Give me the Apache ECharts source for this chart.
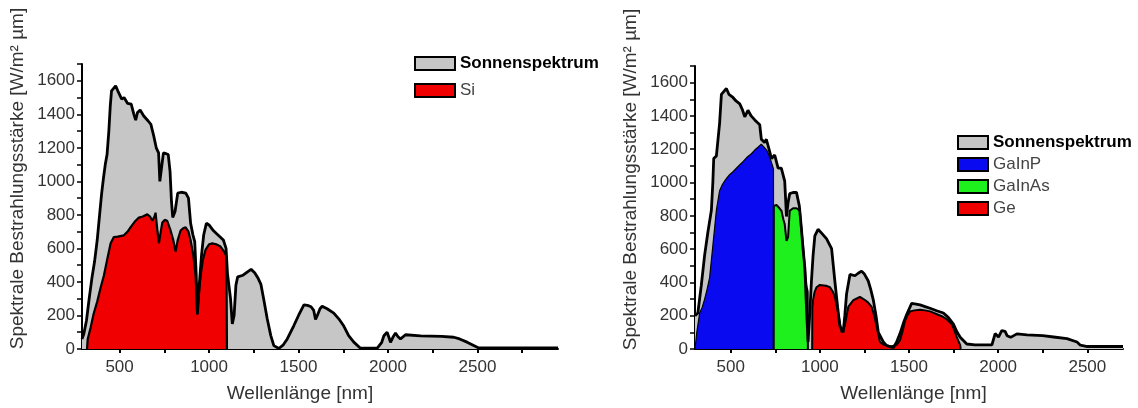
<!DOCTYPE html>
<html>
<head>
<meta charset="utf-8">
<script src="https://cdn.jsdelivr.net/npm/echarts@6/dist/echarts.min.js"></script>
<style>
html,body{margin:0;padding:0;background:#fff;}
#c{width:1138px;height:408px;}
</style>
</head>
<body>
<div id="c"></div>
<script>
// ---- Data (wavelength nm, spectral irradiance W/m² µm) ----
const xLabelValues = [500, 1000, 1500, 2000, 2500];
const xTickValues = [500, 750, 1000, 1250, 1500, 1750, 2000, 2250, 2500, 2750];

const sunLeft = [[290,60],[300,90],[315,170],[330,300],[345,420],[360,520],[375,650],[390,820],[400,930],[410,1020],[420,1100],[430,1160],[440,1300],[448,1450],[455,1540],[465,1545],[478,1570],[490,1540],[500,1535],[512,1490],[525,1500],[545,1465],[565,1460],[580,1400],[590,1365],[600,1410],[615,1425],[635,1390],[660,1360],[675,1340],[690,1275],[705,1200],[718,1170],[725,1000],[732,1060],[745,1170],[760,1165],[772,1160],[782,1060],[790,880],[797,785],[810,820],[825,930],[845,935],[870,930],[885,900],[897,750],[910,680],[920,640],[928,450],[935,210],[945,380],[958,560],[970,680],[985,750],[1000,740],[1025,705],[1050,680],[1080,650],[1095,600],[1103,450],[1112,440],[1120,300],[1130,150],[1140,200],[1150,380],[1160,430],[1190,440],[1215,460],[1235,475],[1255,455],[1275,420],[1290,385],[1305,300],[1325,180],[1345,80],[1362,20],[1390,3],[1415,25],[1437,60],[1474,140],[1500,200],[1530,263],[1550,260],[1570,252],[1585,230],[1595,176],[1605,200],[1620,240],[1632,255],[1660,240],[1697,214],[1725,180],[1753,137],[1780,80],[1809,41],[1846,5],[1940,5],[1965,40],[1977,79],[1995,100],[2005,70],[2014,40],[2030,75],[2042,95],[2055,75],[2070,60],[2098,85],[2182,78],[2300,75],[2368,70],[2400,60],[2442,41],[2507,6],[2950,6]];

const siCell = [[318,0],[322,60],[338,127],[355,210],[375,283],[395,370],[412,437],[430,530],[450,631],[468,668],[490,670],[524,678],[545,700],[561,726],[585,760],[608,784],[630,790],[655,804],[670,790],[683,765],[695,790],[701,813],[710,720],[720,631],[730,700],[739,755],[752,770],[766,765],[785,707],[800,650],[813,581],[825,650],[841,707],[855,720],[869,726],[885,700],[897,649],[912,560],[925,437],[934,205],[943,330],[953,437],[965,530],[980,591],[1000,625],[1018,630],[1040,625],[1064,611],[1085,580],[1097,553],[1100,0]];

const sunRight = [[300,200],[316,216],[335,380],[354,564],[372,700],[392,835],[400,1000],[405,1144],[420,1160],[430,1170],[438,1357],[448,1530],[460,1545],[476,1565],[490,1530],[513,1511],[530,1490],[551,1472],[565,1440],[579,1395],[597,1434],[615,1400],[635,1376],[650,1360],[663,1347],[672,1260],[690,1240],[700,1260],[715,1200],[729,1144],[747,1165],[766,1086],[784,1086],[803,1009],[813,796],[822,880],[831,933],[850,940],[869,941],[885,860],[897,719],[906,600],[916,487],[925,250],[934,42],[943,200],[953,410],[962,560],[972,680],[990,719],[1015,690],[1038,661],[1066,603],[1084,410],[1100,250],[1112,139],[1131,100],[1140,200],[1150,332],[1169,448],[1197,440],[1215,455],[1234,468],[1250,450],[1271,410],[1285,360],[1300,294],[1315,200],[1328,100],[1356,42],[1375,20],[1412,8],[1430,40],[1449,91],[1470,160],[1487,207],[1515,274],[1540,270],[1562,265],[1590,255],[1618,245],[1655,230],[1693,216],[1720,190],[1749,149],[1768,105],[1787,71],[1824,30],[1870,25],[1965,25],[1983,93],[2002,72],[2020,110],[2039,106],[2050,80],[2070,70],[2105,91],[2161,85],[2250,80],[2311,72],[2386,62],[2442,42],[2461,23],[2500,15],[2700,15]];

const gainpCell = [[300,0],[310,100],[326,216],[340,250],[354,300],[368,360],[382,429],[400,620],[420,835],[438,951],[452,985],[466,1009],[480,1030],[494,1047],[513,1065],[532,1086],[550,1105],[569,1125],[590,1150],[616,1173],[635,1195],[653,1212],[672,1231],[690,1210],[705,1190],[720,1150],[735,1100],[740,1080],[741,0]];

const gainasCell = [[741,0],[742,860],[757,865],[770,850],[785,830],[795,780],[803,750],[813,650],[822,672],[831,830],[850,846],[869,846],[880,845],[888,830],[897,720],[905,632],[916,487],[925,380],[932,342],[933,0]];

const geCell = [[957,0],[958,250],[962,294],[970,340],[981,371],[1000,385],[1010,390],[1035,380],[1057,371],[1075,340],[1084,313],[1095,260],[1103,216],[1122,100],[1140,139],[1150,200],[1160,255],[1188,294],[1210,305],[1225,313],[1253,294],[1270,280],[1290,255],[1305,200],[1318,139],[1330,80],[1337,42],[1360,25],[1400,15],[1430,25],[1449,52],[1465,110],[1477,168],[1490,200],[1506,226],[1530,232],[1562,236],[1590,232],[1618,226],[1650,212],[1684,197],[1710,180],[1740,149],[1755,110],[1768,71],[1787,23],[1790,0]];

// ---- Styles ----
const FONT = '"Liberation Sans", Arial, sans-serif';
const GRAY = '#c6c6c6', RED = '#f00000', BLUE = '#0a0af0', GREEN = '#1ef01e';
const TXT = '#333';
const plain = v => String(v);

function xAxis(gi, min, max, padding) {
  return {
    type: 'value', gridIndex: gi, min: min, max: max,
    name: 'Wellenlänge [nm]', nameLocation: 'middle', nameGap: 35,
    nameTextStyle: {fontFamily: FONT, fontSize: 19, color: TXT, padding: padding},
    axisLine: {show: true, lineStyle: {color: '#000', width: 2}},
    axisTick: {show: true, customValues: xTickValues, length: 4, lineStyle: {color: '#000', width: 2}},
    axisLabel: {customValues: xLabelValues, formatter: plain, fontFamily: FONT, fontSize: 17, color: TXT, margin: 10},
    splitLine: {show: false}
  };
}
function yAxis(gi) {
  return {
    type: 'value', gridIndex: gi, min: 0, max: 1700, interval: 200,
    name: 'Spektrale Bestrahlungsstärke [W/m² µm]', nameLocation: 'middle', nameGap: 55,
    nameTextStyle: {fontFamily: FONT, fontSize: 19, color: TXT, padding: [0, 0, 0, 56]},
    axisLine: {show: true, lineStyle: {color: '#000', width: 2}},
    axisTick: {show: true, length: 5, lineStyle: {color: '#000', width: 1.5}},
    minorTick: {show: true, splitNumber: 2, length: 5, lineStyle: {color: '#000', width: 1.5}},
    axisLabel: {formatter: plain, fontFamily: FONT, fontSize: 17, color: TXT, margin: 7, showMaxLabel: false},
    splitLine: {show: false}
  };
}
function fill(name, data, color, gi, lw, z) {
  return {
    type: 'line', name: name, data: data, xAxisIndex: gi, yAxisIndex: gi,
    symbol: 'none', showSymbol: false, animation: false, z: z,
    lineStyle: {color: '#000', width: lw},
    itemStyle: {color: color},
    areaStyle: {color: color, opacity: 1}
  };
}
function outline(data, gi) {
  return {
    type: 'line', name: 'outline' + gi, data: data, xAxisIndex: gi, yAxisIndex: gi,
    symbol: 'none', showSymbol: false, animation: false, z: 10,
    lineStyle: {color: '#000', width: 2.8}
  };
}
function legendItem(name, color, bold) {
  return {name: name, icon: 'rect',
    itemStyle: {color: color, borderColor: '#000', borderWidth: 2},
    textStyle: {fontFamily: FONT, fontSize: 17, color: bold ? '#000' : '#444', fontWeight: bold ? 'bold' : 'normal'}};
}

const chart = echarts.init(document.getElementById('c'), null, {renderer: 'canvas'});
chart.setOption({
  backgroundColor: '#fff',
  animation: false,
  grid: [
    {left: 82, top: 64, right: 580, bottom: 51},
    {left: 695, top: 66, right: 15, bottom: 49}
  ],
  xAxis: [xAxis(0, 290, 2950, [0, 40, 0, 0]), xAxis(1, 300, 2700, [0, 0, 0, 9])],
  yAxis: [yAxis(0), yAxis(1)],
  legend: [
    {left: 409, top: 50, orient: 'vertical', itemWidth: 40, itemHeight: 13, itemGap: 10,
     selectedMode: false,
     data: [legendItem('Sonnenspektrum', GRAY, true), legendItem('Si', RED, false)]},
    {left: 952, top: 129, orient: 'vertical', itemWidth: 30, itemHeight: 13, itemGap: 5,
     selectedMode: false,
     data: [legendItem('Sonnenspektrum', GRAY, true), legendItem('GaInP', BLUE, false),
            legendItem('GaInAs', GREEN, false), legendItem('Ge', RED, false)]}
  ],
  series: [
    fill('Sonnenspektrum', sunLeft, GRAY, 0, 0, 1),
    fill('Si', siCell, RED, 0, 2.2, 2),
    outline(sunLeft, 0),
    fill('Sonnenspektrum', sunRight, GRAY, 1, 0, 1),
    fill('GaInP', gainpCell, BLUE, 1, 1.2, 2),
    fill('GaInAs', gainasCell, GREEN, 1, 2, 2),
    fill('Ge', geCell, RED, 1, 2, 2),
    outline(sunRight, 1)
  ]
});
</script>
</body>
</html>
